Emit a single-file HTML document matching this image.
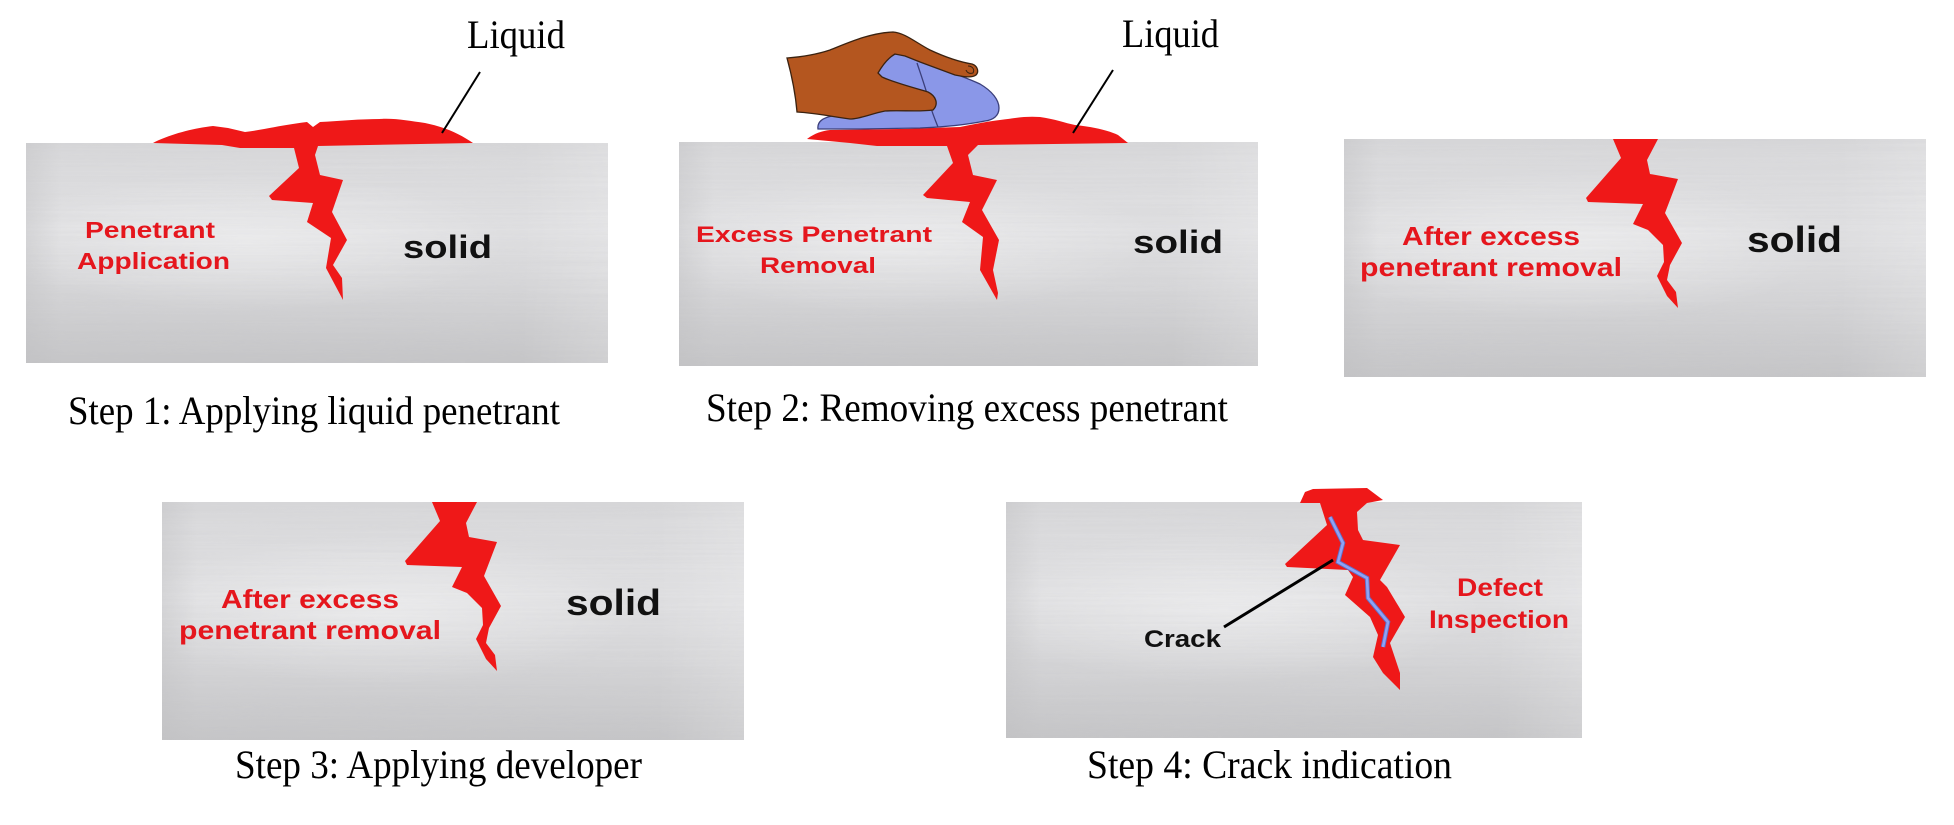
<!DOCTYPE html>
<html>
<head>
<meta charset="utf-8">
<style>
  html,body{margin:0;padding:0;background:#fff;}
  svg{display:block;}
  .cap{font-family:"Liberation Serif","Times New Roman",serif;font-size:40px;fill:#000;}
  .red{font-family:"Liberation Sans",Arial,sans-serif;font-weight:bold;fill:#e5161d;}
  .blk{font-family:"Liberation Sans",Arial,sans-serif;font-weight:bold;fill:#111;}
</style>
</head>
<body>
<svg width="1954" height="825" viewBox="0 0 1954 825" xmlns="http://www.w3.org/2000/svg">
  <defs>
    <linearGradient id="pv" x1="0" y1="0" x2="0" y2="1">
      <stop offset="0" stop-color="#d8d8da"/>
      <stop offset="0.08" stop-color="#dcdcde"/>
      <stop offset="0.4" stop-color="#e2e2e4"/>
      <stop offset="0.62" stop-color="#d9d9db"/>
      <stop offset="0.85" stop-color="#cdcdcf"/>
      <stop offset="1" stop-color="#c6c6c8"/>
    </linearGradient>
    <radialGradient id="ph" cx="0.38" cy="0.45" r="0.45" gradientTransform="translate(0.38 0.45) scale(1 0.7) translate(-0.38 -0.45)">
      <stop offset="0" stop-color="#ffffff" stop-opacity="0.45"/>
      <stop offset="1" stop-color="#ffffff" stop-opacity="0"/>
    </radialGradient>
    <linearGradient id="pr" x1="0" y1="0" x2="1" y2="0">
      <stop offset="0" stop-color="#bfbfc1" stop-opacity="0.35"/>
      <stop offset="0.06" stop-color="#bfbfc1" stop-opacity="0"/>
      <stop offset="0.85" stop-color="#ffffff" stop-opacity="0"/>
      <stop offset="1" stop-color="#ffffff" stop-opacity="0.2"/>
    </linearGradient>
    <filter id="brush" x="0" y="0" width="1" height="1">
      <feTurbulence type="fractalNoise" baseFrequency="0.004 0.45" numOctaves="2" seed="3" result="n"/>
      <feColorMatrix in="n" type="matrix" values="0 0 0 0 0.5  0 0 0 0 0.5  0 0 0 0 0.52  0 0 0 0.35 0" result="g"/>
      <feComposite in="g" in2="SourceGraphic" operator="in"/>
    </filter>
  </defs>

  <!-- ============ Plates ============ -->
  <g>
    <rect x="26" y="143" width="582" height="220" fill="url(#pv)"/>
    <rect x="26" y="143" width="582" height="220" fill="url(#ph)"/>
    <rect x="26" y="143" width="582" height="220" fill="url(#pr)"/>
    <rect x="26" y="143" width="582" height="220" fill="#888" filter="url(#brush)" opacity="0.5"/>

    <rect x="679" y="142" width="579" height="224" fill="url(#pv)"/>
    <rect x="679" y="142" width="579" height="224" fill="url(#ph)"/>
    <rect x="679" y="142" width="579" height="224" fill="url(#pr)"/>
    <rect x="679" y="142" width="579" height="224" fill="#888" filter="url(#brush)" opacity="0.5"/>

    <rect x="1344" y="139" width="582" height="238" fill="url(#pv)"/>
    <rect x="1344" y="139" width="582" height="238" fill="url(#ph)"/>
    <rect x="1344" y="139" width="582" height="238" fill="url(#pr)"/>
    <rect x="1344" y="139" width="582" height="238" fill="#888" filter="url(#brush)" opacity="0.5"/>

    <rect x="162" y="502" width="582" height="238" fill="url(#pv)"/>
    <rect x="162" y="502" width="582" height="238" fill="url(#ph)"/>
    <rect x="162" y="502" width="582" height="238" fill="url(#pr)"/>
    <rect x="162" y="502" width="582" height="238" fill="#888" filter="url(#brush)" opacity="0.5"/>

    <rect x="1006" y="502" width="576" height="236" fill="url(#pv)"/>
    <rect x="1006" y="502" width="576" height="236" fill="url(#ph)"/>
    <rect x="1006" y="502" width="576" height="236" fill="url(#pr)"/>
    <rect x="1006" y="502" width="576" height="236" fill="#888" filter="url(#brush)" opacity="0.5"/>
  </g>

  <!-- ============ Panel 1 ============ -->
  <path fill="#ef1818" d="M153,143 C170,134 195,128 213,126 L228,128 L245,132 C262,130 282,125 307,122 L313,127 L320,122 C340,121 360,119 380,119 C395,118 410,121 425,123 C445,127 460,134 473,143 L318,146 L315,155 L320,175 L343,180 L332,212 L347,240 L333,265 L342,278 L343,300 L326,268 L331,238 L307,222 L313,203 L272,200 L269,196 L299,168 L294,148 L270,148 L240,148 L222,145 Z"/>
  <line x1="480" y1="72" x2="442" y2="133" stroke="#000" stroke-width="2"/>
  <text class="cap" x="467" y="48" textLength="98" lengthAdjust="spacingAndGlyphs">Liquid</text>
  <text class="red" x="85" y="238" font-size="23" textLength="130" lengthAdjust="spacingAndGlyphs">Penetrant</text>
  <text class="red" x="77" y="269" font-size="23" textLength="153" lengthAdjust="spacingAndGlyphs">Application</text>
  <text class="blk" x="403" y="258" font-size="32" textLength="89" lengthAdjust="spacingAndGlyphs">solid</text>
  <text class="cap" x="68" y="424" textLength="492" lengthAdjust="spacingAndGlyphs">Step 1: Applying liquid penetrant</text>

  <!-- ============ Panel 2 ============ -->
  <path fill="#ef1818" d="M807,139 C815,133 822,131 830,130 L900,129 L960,127 C975,124 990,121 1000,120 C1015,118 1025,116 1040,117 C1055,119 1065,123 1075,125 C1095,127 1110,131 1118,135 L1128,143 L978,145 L968,155 L973,175 L997,180 L982,210 L999,240 L993,270 L998,293 L997,300 L980,270 L983,237 L962,222 L970,202 L927,198 L923,195 L953,163 L947,146 L905,146 L877,146 L850,143 Z"/>
  <!-- sponge -->
  <path fill="#8a97e8" stroke="#3b3f7a" stroke-width="1.3" d="M818,129 C817,122 822,118 832,116 L880,110 L878,73 C883,62 888,55 895,54 C905,54 915,58 925,63 C945,70 965,77 980,84 C992,91 999,100 999,108 C999,116 993,120 985,121 C965,125 945,127 920,128 L860,129 Z"/>
  <path fill="none" stroke="#3b3f7a" stroke-width="1.3" d="M917,63 C922,78 928,95 930,105 C933,115 936,122 938,127"/>
  <!-- hand -->
  <path fill="#b4561f" stroke="#3a2210" stroke-width="1.3" d="M787,58 C800,57 815,55 830,50 C850,42 870,33 893,32 C905,33 915,42 930,50 C945,57 960,62 972,64 C978,66 979,72 976,75 C972,78 965,77 955,75 L920,62 L905,56 L895,54 C888,58 882,66 878,73 L882,77 C895,83 915,88 928,92 C936,96 939,104 933,110 C920,112 900,110 885,111 C870,114 860,119 850,119 C835,117 815,113 797,112 C796,100 793,80 787,58 Z"/>
  <path fill="none" stroke="#3a2210" stroke-width="1" d="M968,66 C972,66 975,69 973,73 C970,74 967,73 966,70"/>
  <line x1="1113" y1="70" x2="1073" y2="133" stroke="#000" stroke-width="2"/>
  <text class="cap" x="1122" y="47" textLength="97" lengthAdjust="spacingAndGlyphs">Liquid</text>
  <text class="red" x="696" y="242" font-size="22" textLength="236" lengthAdjust="spacingAndGlyphs">Excess Penetrant</text>
  <text class="red" x="760" y="273" font-size="22" textLength="116" lengthAdjust="spacingAndGlyphs">Removal</text>
  <text class="blk" x="1133" y="253" font-size="32" textLength="90" lengthAdjust="spacingAndGlyphs">solid</text>
  <text class="cap" x="706" y="421" textLength="522" lengthAdjust="spacingAndGlyphs">Step 2: Removing excess penetrant</text>

  <!-- ============ Panel 3 ============ -->
  <g id="p3">
    <path fill="#ef1818" d="M1613,139 L1621,158 L1586,198 L1588,202 L1643,204 L1633,224 L1648,230 L1663,245 L1664,262 L1657,276 L1667,296 L1678,308 L1676,292 L1667,280 L1670,265 L1682,243 L1665,213 L1678,179 L1650,174 L1647,160 L1658,139 Z"/>
    <text class="red" x="1402" y="245" font-size="26" textLength="178" lengthAdjust="spacingAndGlyphs">After excess</text>
    <text class="red" x="1360" y="276" font-size="26" textLength="262" lengthAdjust="spacingAndGlyphs">penetrant removal</text>
    <text class="blk" x="1747" y="252" font-size="36" textLength="95" lengthAdjust="spacingAndGlyphs">solid</text>
  </g>

  <!-- ============ Panel 4 (same as 3, shifted) ============ -->
  <g transform="translate(-1181,363)">
    <path fill="#ef1818" d="M1613,139 L1621,158 L1586,198 L1588,202 L1643,204 L1633,224 L1648,230 L1663,245 L1664,262 L1657,276 L1667,296 L1678,308 L1676,292 L1667,280 L1670,265 L1682,243 L1665,213 L1678,179 L1650,174 L1647,160 L1658,139 Z"/>
    <text class="red" x="1402" y="245" font-size="26" textLength="178" lengthAdjust="spacingAndGlyphs">After excess</text>
    <text class="red" x="1360" y="276" font-size="26" textLength="262" lengthAdjust="spacingAndGlyphs">penetrant removal</text>
    <text class="blk" x="1747" y="252" font-size="36" textLength="95" lengthAdjust="spacingAndGlyphs">solid</text>
  </g>
  <text class="cap" x="235" y="778" textLength="407" lengthAdjust="spacingAndGlyphs">Step 3: Applying developer</text>

  <!-- ============ Panel 5 ============ -->
  <path fill="#ef1818" d="M1300,503 L1305,492 L1313,489 L1367,488 L1383,500 L1367,503 L1357,512 L1358,530 L1363,540 L1400,545 L1380,580 L1387,587 L1405,617 L1390,643 L1400,673 L1400,690 L1383,673 L1373,657 L1378,635 L1370,617 L1345,595 L1353,577 L1348,570 L1287,567 L1285,564 L1327,525 L1320,503 Z"/>
  <polyline fill="none" stroke="#5f6fc8" stroke-width="4.5" stroke-linejoin="miter" points="1330,517 1343,543 1338,562 1367,578 1368,598 1388,622 1383,647"/>
  <polyline fill="none" stroke="#8fa2f4" stroke-width="2.6" stroke-linejoin="miter" points="1330,517 1343,543 1338,562 1367,578 1368,598 1388,622 1383,647"/>
  <line x1="1333" y1="560" x2="1224" y2="627" stroke="#000" stroke-width="3"/>
  <text class="blk" x="1144" y="647" font-size="24" textLength="77" lengthAdjust="spacingAndGlyphs">Crack</text>
  <text class="red" x="1457" y="596" font-size="25" textLength="86" lengthAdjust="spacingAndGlyphs">Defect</text>
  <text class="red" x="1429" y="628" font-size="25" textLength="140" lengthAdjust="spacingAndGlyphs">Inspection</text>
  <text class="cap" x="1087" y="778" textLength="365" lengthAdjust="spacingAndGlyphs">Step 4: Crack indication</text>
</svg>
</body>
</html>
